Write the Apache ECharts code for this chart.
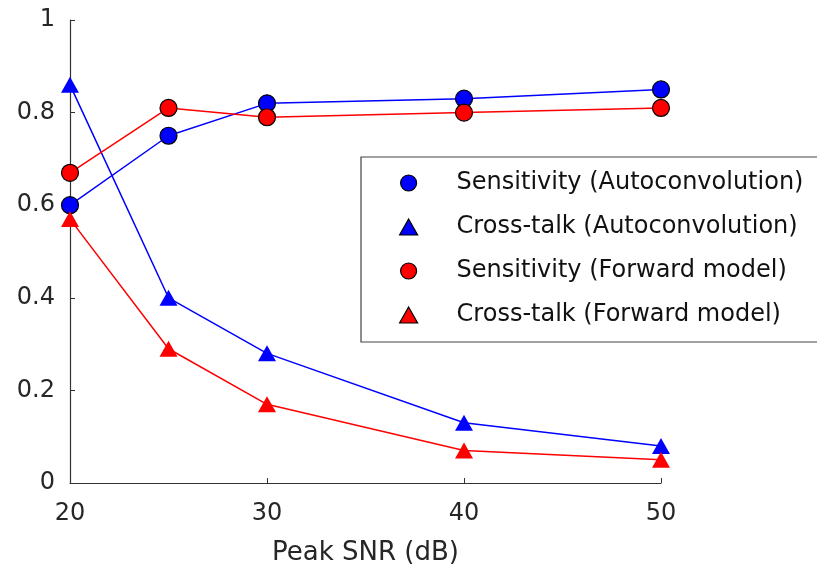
<!DOCTYPE html>
<html>
<head>
<meta charset="utf-8">
<script src="https://cdn.jsdelivr.net/npm/echarts@6/dist/echarts.min.js"></script>
<style>
  html, body { margin: 0; padding: 0; background: #fff; }
  #chart { width: 817px; height: 576px; }
</style>
</head>
<body>
<div id="chart"></div>
<script>
// Peak SNR values (dB)
const snr = [20, 25, 30, 40, 50];
const sensAuto = [0.60, 0.75, 0.82, 0.83, 0.85];
const crossAuto = [0.86, 0.40, 0.28, 0.13, 0.08];
const sensFwd = [0.67, 0.81, 0.79, 0.80, 0.81];
const crossFwd = [0.57, 0.29, 0.17, 0.07, 0.05];
const names = [
  'Sensitivity (Autoconvolution)',
  'Cross-talk (Autoconvolution)',
  'Sensitivity (Forward model)',
  'Cross-talk (Forward model)'
];

const font = 'DejaVu Sans, Liberation Sans, Arial, sans-serif';
const axisColor = '#333';
const textColor = '#262626';

function pairs(ys) {
  return snr.map((x, i) => [x, ys[i]]);
}

function makeSeries(name, ys, color, symbol) {
  const isCircle = symbol === 'circle';
  return {
    name: name,
    type: 'line',
    data: pairs(ys),
    symbol: symbol,
    symbolSize: isCircle ? 17 : [18, 16],
    color: color,
    lineStyle: { width: 1.5, color: color },
    itemStyle: {
      color: color,
      borderColor: isCircle ? '#000' : color,
      borderWidth: isCircle ? 1.2 : 0
    },
    emphasis: { disabled: true },
    animation: false
  };
}

const chart = echarts.init(document.getElementById('chart'));
const option = {
  backgroundColor: '#fff',
  grid: { left: 70, right: 156, top: 20, bottom: 93 },
  xAxis: {
    type: 'value',
    min: 20, max: 50, interval: 10,
    name: 'Peak SNR (dB)',
    nameLocation: 'middle',
    nameGap: 57,
    nameTextStyle: { fontFamily: font, fontSize: 26, color: textColor },
    axisLine: { lineStyle: { color: axisColor, width: 1.2 } },
    axisTick: { inside: true, length: 5, lineStyle: { color: axisColor } },
    axisLabel: { fontFamily: font, fontSize: 24, color: textColor, margin: 19 },
    splitLine: { show: false }
  },
  yAxis: {
    type: 'value',
    min: 0, max: 1, interval: 0.2,
    axisLine: { show: true, lineStyle: { color: axisColor, width: 1.2 } },
    axisTick: { show: true, inside: true, length: 5, lineStyle: { color: axisColor } },
    axisLabel: { fontFamily: font, fontSize: 24, color: textColor, margin: 15 },
    splitLine: { show: false }
  },
  legend: {
    orient: 'vertical',
    left: 361, top: 157,
    padding: [14, 20, 15, 38],
    itemWidth: 18, itemHeight: 16,
    itemGap: 20,
    borderColor: '#444', borderWidth: 1.2,
    backgroundColor: '#fff',
    selectedMode: false,
    textStyle: {
      fontFamily: font, fontSize: 24, color: '#111',
      lineHeight: 24, padding: [0, 0, 0, 34]
    },
    data: [
      { name: names[0], icon: 'circle', itemStyle: { borderColor: '#000', borderWidth: 1.2 } },
      { name: names[1], icon: 'triangle', itemStyle: { borderColor: '#000', borderWidth: 1.2 } },
      { name: names[2], icon: 'circle', itemStyle: { borderColor: '#000', borderWidth: 1.2 } },
      { name: names[3], icon: 'triangle', itemStyle: { borderColor: '#000', borderWidth: 1.2 } }
    ]
  },
  series: [
    makeSeries(names[0], sensAuto, '#0000ff', 'circle'),
    makeSeries(names[1], crossAuto, '#0000ff', 'triangle'),
    makeSeries(names[2], sensFwd, '#ff0000', 'circle'),
    makeSeries(names[3], crossFwd, '#ff0000', 'triangle')
  ]
};
chart.setOption(option);
</script>
</body>
</html>
